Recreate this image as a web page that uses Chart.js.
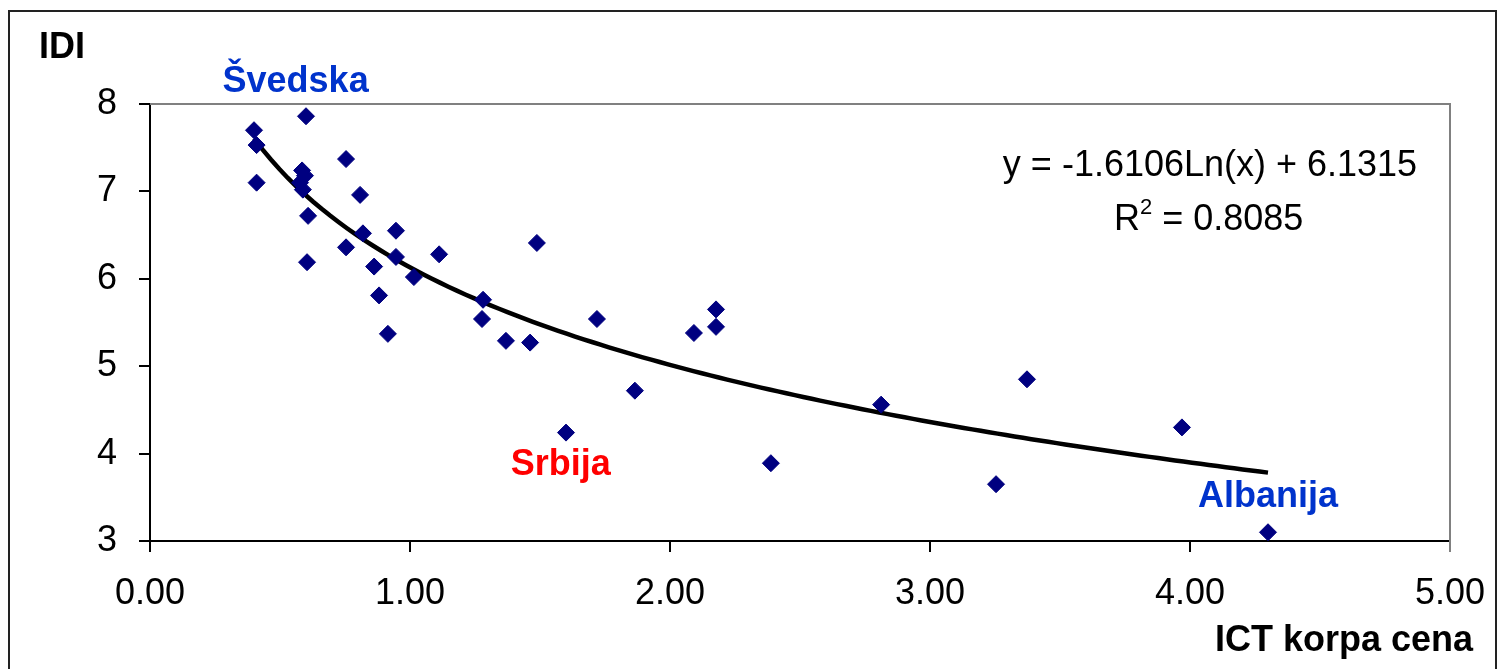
<!DOCTYPE html>
<html>
<head>
<meta charset="utf-8">
<title>IDI vs ICT korpa cena</title>
<script src="https://cdn.jsdelivr.net/npm/chart.js@4/dist/chart.umd.min.js"></script>
<style>
  html, body { margin: 0; padding: 0; background: #fff; overflow: hidden; }
  #wrap { width: 1501px; height: 669px; }
</style>
</head>
<body>
<div id="wrap"><canvas id="idiChart" width="1501" height="669"></canvas></div>
<script>
// ICT price basket (x) and IDI index (y)
const ictPrice = [
  0.40, 0.41, 0.41, 0.60, 0.585, 0.596, 0.577, 0.588, 0.608, 0.604,
  0.754, 0.808, 0.819, 0.754, 0.946, 0.946, 0.862, 0.881, 0.915, 1.015,
  1.112, 1.488, 1.281, 1.277, 1.369, 1.462, 1.719, 1.60, 1.865, 2.177,
  2.177, 2.092, 2.388, 2.812, 3.373, 3.254, 3.969, 4.30
];
const idi = [
  7.70, 7.53, 7.10, 7.86, 7.24, 7.18, 7.10, 7.02, 6.72, 6.19,
  7.37, 6.96, 6.52, 6.36, 6.55, 6.25, 6.14, 5.81, 5.37, 6.02,
  6.28, 6.41, 5.76, 5.54, 5.29, 5.27, 5.54, 4.24, 4.72, 5.65,
  5.45, 5.38, 3.89, 4.56, 4.85, 3.65, 4.30, 3.10
];

// logarithmic trend printed on the chart
const trendA = -1.6106;
const trendB = 6.1315;
const trendR2 = 0.8085;

const countryLabels = [
  { text: "Švedska", x: 0.56, y: 8.14, color: "#0033cc" },
  { text: "Srbija", x: 1.58, y: 3.76, color: "#ff0000" },
  { text: "Albanija", x: 4.30, y: 3.39, color: "#0033cc" }
];

const xMin = Math.min(...ictPrice);
const xMax = Math.max(...ictPrice);
const trendPts = [];
for (let i = 0; i <= 120; i++) {
  const x = xMin + (xMax - xMin) * i / 120;
  trendPts.push({ x: x, y: trendA * Math.log(x) + trendB });
}

const FONT = "'Liberation Sans', Arial, sans-serif";

/************ EXTRA DRAWING: frame, borders, texts ************/
const decorations = {
  id: "decorations",
  beforeDraw(chart) {
    const ctx = chart.ctx;
    ctx.save();
    ctx.fillStyle = "#fff";
    ctx.fillRect(0, 0, chart.width, chart.height);
    ctx.strokeStyle = "#222";
    ctx.lineWidth = 2;
    ctx.strokeRect(9, 11, 1487, 700);
    ctx.restore();
  },
  afterDraw(chart) {
    const ctx = chart.ctx;
    const a = chart.chartArea;
    const xs = chart.scales.x;
    const ys = chart.scales.y;
    ctx.save();

    // top and right border of the plot area
    ctx.strokeStyle = "#808080";
    ctx.lineWidth = 2;
    ctx.beginPath();
    ctx.moveTo(a.left, a.top);
    ctx.lineTo(a.right, a.top);
    ctx.lineTo(a.right, a.bottom + 11);
    ctx.stroke();

    // axis titles
    ctx.fillStyle = "#000";
    ctx.font = "bold 36px " + FONT;
    ctx.textBaseline = "alphabetic";
    ctx.textAlign = "left";
    ctx.fillText("IDI", 39, 58);
    ctx.textAlign = "right";
    ctx.fillText("ICT korpa cena", 1473, 651);

    // country labels
    ctx.textAlign = "center";
    countryLabels.forEach((l) => {
      ctx.fillStyle = l.color;
      ctx.fillText(l.text, xs.getPixelForValue(l.x), ys.getPixelForValue(l.y));
    });

    // trend equation
    ctx.fillStyle = "#000";
    ctx.font = "36px " + FONT;
    ctx.textAlign = "center";
    const eq = "y = " + trendA.toFixed(4) + "Ln(x) + " + trendB.toFixed(4);
    ctx.fillText(eq, 1210, 176);
    ctx.textAlign = "left";
    const r2 = " = " + trendR2.toFixed(4);
    ctx.fillText("R", 1114, 230);
    const rw = ctx.measureText("R").width;
    ctx.font = "22px " + FONT;
    ctx.fillText("2", 1114 + rw, 214);
    const sw = ctx.measureText("2").width;
    ctx.font = "36px " + FONT;
    ctx.fillText(r2, 1114 + rw + sw, 230);

    ctx.restore();
  }
};

new Chart(document.getElementById("idiChart"), {
  type: "scatter",
  data: {
    datasets: [
      {
        label: "IDI",
        data: ictPrice.map((x, i) => ({ x: x, y: idi[i] })),
        pointStyle: "rectRot",
        pointRadius: 8.5,
        pointHoverRadius: 8.5,
        backgroundColor: "#000080",
        borderColor: "#000080",
        borderWidth: 1,
        order: 1
      },
      {
        label: "Trend",
        data: trendPts,
        showLine: true,
        pointRadius: 0,
        borderColor: "#000",
        borderWidth: 4.5,
        fill: false,
        order: 2
      }
    ]
  },
  options: {
    responsive: false,
    animation: false,
    devicePixelRatio: 1,
    layout: { padding: { left: 0, right: 51, top: 104, bottom: 0 } },
    plugins: {
      legend: { display: false },
      tooltip: { enabled: false }
    },
    scales: {
      x: {
        type: "linear",
        min: 0,
        max: 5,
        afterFit: (s) => { s.height = 128; s.paddingLeft = 0; s.paddingRight = 0; },
        ticks: {
          stepSize: 1,
          maxRotation: 0,
          color: "#000",
          padding: 20,
          font: { family: FONT, size: 36 },
          callback: (v) => Number(v).toFixed(2)
        },
        grid: { drawOnChartArea: false, drawTicks: true, tickLength: 11, color: "#000", lineWidth: 2 },
        border: { display: true, color: "#000", width: 2 }
      },
      y: {
        type: "linear",
        min: 3,
        max: 8,
        afterFit: (s) => { s.width = 150; s.paddingTop = 0; s.paddingBottom = 0; },
        ticks: {
          stepSize: 1,
          color: "#000",
          padding: 22,
          font: { family: FONT, size: 36 }
        },
        grid: { drawOnChartArea: false, drawTicks: true, tickLength: 11, color: "#000", lineWidth: 2 },
        border: { display: true, color: "#000", width: 2 }
      }
    }
  },
  plugins: [decorations]
});
</script>
</body>
</html>
